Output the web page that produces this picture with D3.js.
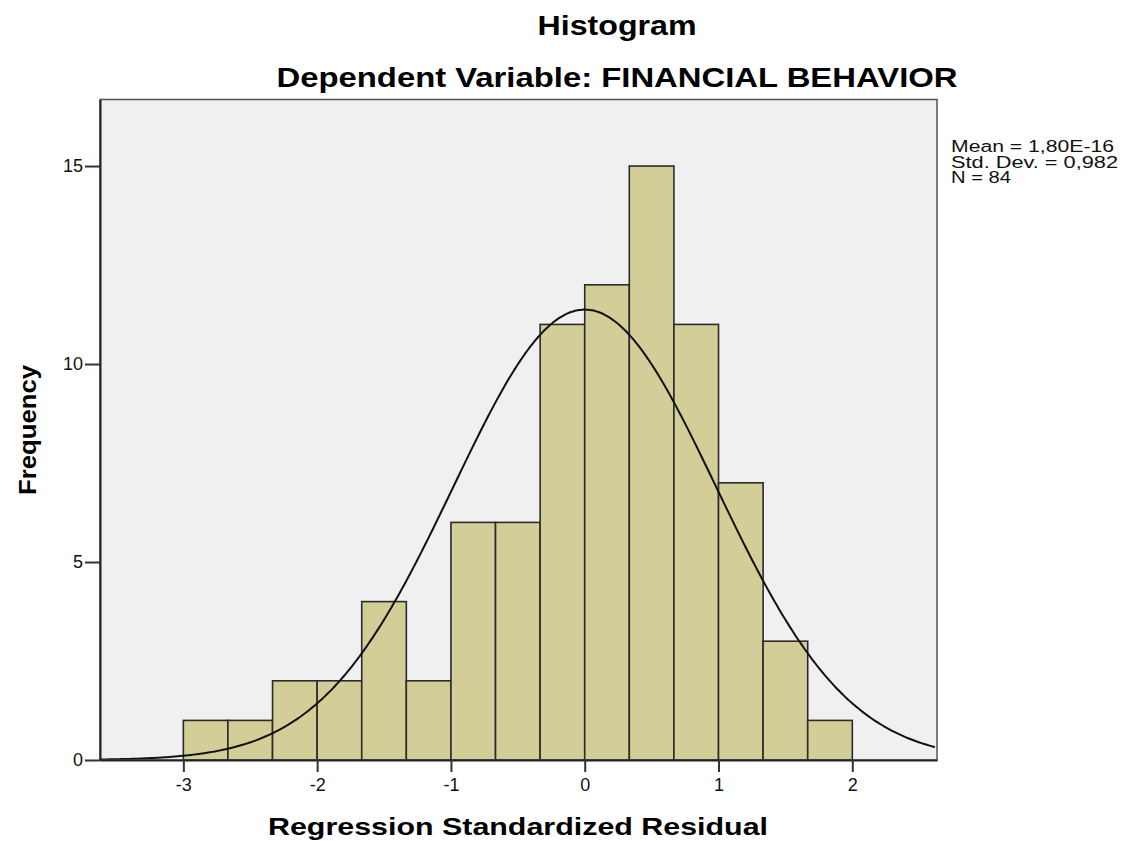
<!DOCTYPE html>
<html>
<head>
<meta charset="utf-8">
<script src="https://cdn.jsdelivr.net/npm/d3@7"></script>
<style>
body { margin: 0; background: #fff; }
text { font-family: "Liberation Sans", Arial, sans-serif; }
</style>
</head>
<body>
<script>
var width = 1133,
    height = 841;

// histogram bins (lower edges) and counts
var binStarts = [-3, -2.6667, -2.3333, -2, -1.6667, -1.3333, -1, -0.6667, -0.3333, 0, 0.3333, 0.6667, 1, 1.3333, 1.6667]
var binWidth = 1 / 3
var counts = [1, 1, 2, 2, 4, 2, 6, 6, 11, 12, 15, 11, 7, 3, 1]
var xTicks = [-3, -2, -1, 0, 1, 2]
var yTicks = [0, 5, 10, 15]
var statsLines = ["Mean = 1,80E-16", "Std. Dev. = 0,982", "N = 84"]
var mean = 1.80e-16, sd = 0.982, n = 84

var x = d3.scaleLinear().domain([-3.623, 2.633]).range([100, 937]);
var y = d3.scaleLinear().domain([0, 16.68]).range([760, 99.5]);

var svg = d3.select("body").append("svg")
    .attr("width", width)
    .attr("height", height)

// plot background
svg.append("rect")
    .attr("x", x.range()[0]).attr("y", y.range()[1])
    .attr("width", x.range()[1] - x.range()[0])
    .attr("height", y.range()[0] - y.range()[1])
    .style("fill", "#f0f0f0")

// bars
svg.append("g").selectAll("rect")
    .data(counts).enter()
    .append("rect")
    .attr("x", function(d, i) { return x(binStarts[i]); })
    .attr("y", function(d) { return y(d); })
    .attr("width", function(d, i) { return x(binStarts[i] + binWidth) - x(binStarts[i]); })
    .attr("height", function(d) { return y(0) - y(d); })
    .style("fill", "#d3ce97")
    .style("stroke", "#2b2b2b")
    .style("stroke-width", 1.6)

// normal curve from the displayed statistics
var curvePts = d3.range(x.domain()[0], x.domain()[1] + 0.001, 0.02).map(function(v) {
    var z = (v - mean) / sd;
    return [v, n * binWidth * Math.exp(-0.5 * z * z) / (sd * Math.sqrt(2 * Math.PI))];
})
svg.append("path")
    .datum(curvePts)
    .attr("d", d3.line().x(function(d) { return x(d[0]); }).y(function(d) { return y(d[1]); }).curve(d3.curveBasis))
    .style("fill", "none")
    .style("stroke", "#111")
    .style("stroke-width", 2)

// frame
svg.append("rect")
    .attr("x", x.range()[0]).attr("y", y.range()[1])
    .attr("width", x.range()[1] - x.range()[0])
    .attr("height", y.range()[0] - y.range()[1])
    .style("fill", "none")
    .style("stroke", "#555")
    .style("stroke-width", 1.5)

// axes
var xAxis = svg.append("g")
    .attr("transform", "translate(0," + y(0) + ")")
    .call(d3.axisBottom(x).tickValues(xTicks).tickSize(12).tickSizeOuter(0).tickPadding(6).tickFormat(d3.format("d")))
var yAxis = svg.append("g")
    .attr("transform", "translate(" + x.range()[0] + ",0)")
    .call(d3.axisLeft(y).tickValues(yTicks).tickSize(15).tickSizeOuter(0).tickPadding(2))

;[xAxis, yAxis].forEach(function(a) {
    a.select(".domain").style("stroke", "#222").style("stroke-width", 2)
    a.selectAll(".tick line").style("stroke", "#333").style("stroke-width", 2)
    a.selectAll(".tick text")
        .style("font-family", "'Liberation Sans', Arial, sans-serif")
        .style("font-size", "18px")
        .style("fill", "#111")
})
xAxis.selectAll(".tick text").text(function(d) { return d < 0 ? "-" + Math.abs(d) : d; })

// titles
svg.append("text")
    .attr("x", 617).attr("y", 35)
    .attr("text-anchor", "middle")
    .attr("textLength", 159).attr("lengthAdjust", "spacingAndGlyphs")
    .style("font-size", "28px").style("font-weight", "bold")
    .text("Histogram")

svg.append("text")
    .attr("x", 617).attr("y", 87)
    .attr("text-anchor", "middle")
    .attr("textLength", 681).attr("lengthAdjust", "spacingAndGlyphs")
    .style("font-size", "28px").style("font-weight", "bold")
    .text("Dependent Variable: FINANCIAL BEHAVIOR")

svg.append("text")
    .attr("x", 518).attr("y", 835)
    .attr("text-anchor", "middle")
    .attr("textLength", 500).attr("lengthAdjust", "spacingAndGlyphs")
    .style("font-size", "24px").style("font-weight", "bold")
    .text("Regression Standardized Residual")

svg.append("text")
    .attr("transform", "translate(36,430) rotate(-90)")
    .attr("text-anchor", "middle")
    .attr("textLength", 130).attr("lengthAdjust", "spacingAndGlyphs")
    .style("font-size", "23px").style("font-weight", "bold")
    .text("Frequency")

// statistics box
var statLen = [163, 167, 60]
svg.append("g").selectAll("text")
    .data(statsLines).enter()
    .append("text")
    .attr("x", 951)
    .attr("y", function(d, i) { return 152 + i * 15.5; })
    .attr("textLength", function(d, i) { return statLen[i]; })
    .attr("lengthAdjust", "spacingAndGlyphs")
    .style("font-size", "16px")
    .style("fill", "#111")
    .text(function(d) { return d; })
</script>
</body>
</html>
